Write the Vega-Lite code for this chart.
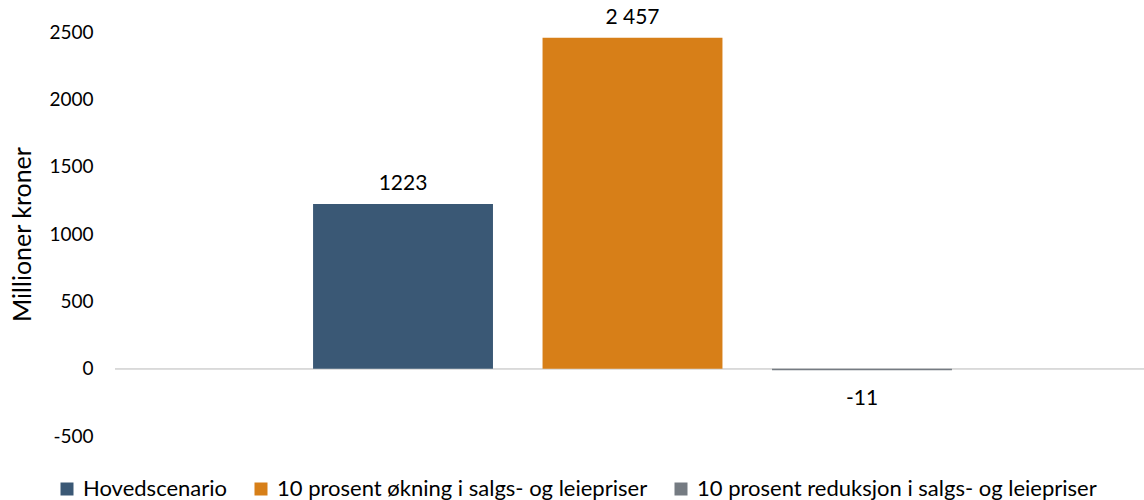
{
  "$schema": "https://vega.github.io/schema/vega-lite/v6.json",
  "autosize": {"type": "none"},
  "width": 1029,
  "height": 404,
  "padding": {"left": 115, "top": 32, "right": 0, "bottom": 64},
  "background": "white",
  "config": {
    "font": "Lato",
    "view": {"stroke": null},
    "text": {"font": "Lato"}
  },
  "data": {
    "values": [
      {"serie": "Hovedscenario", "verdi": 1223, "etikett": "1223"},
      {"serie": "10 prosent økning i salgs- og leiepriser", "verdi": 2457, "etikett": "2 457"},
      {"serie": "10 prosent reduksjon i salgs- og leiepriser", "verdi": -11, "etikett": "-11"}
    ]
  },
  "encoding": {
    "x": {
      "field": "serie",
      "type": "nominal",
      "sort": null,
      "axis": null,
      "scale": {"paddingInner": 0.216, "paddingOuter": 0.85, "range": [3, 1032]}
    }
  },
  "layer": [
    {
      "mark": {"type": "rule", "color": "#d9d9d9", "strokeWidth": 1.5},
      "encoding": {"y": {"datum": 0, "type": "quantitative"}, "x": null}
    },
    {
      "mark": {"type": "bar"},
      "encoding": {
        "y": {
          "field": "verdi",
          "type": "quantitative",
          "scale": {"domain": [-500, 2500], "nice": false, "zero": false},
          "axis": {
            "title": "Millioner kroner",
            "titleFont": "Lato",
            "titleFontSize": 25,
            "titleFontWeight": "normal",
            "titleColor": "#000000",
            "titlePadding": 13,
            "values": [-500, 0, 500, 1000, 1500, 2000, 2500],
            "format": "d",
            "labelExpr": "replace(datum.label, '−', '-')",
            "labelFont": "Lato",
            "labelFontSize": 19,
            "labelColor": "#000000",
            "labelPadding": 22,
            "domain": false,
            "ticks": false,
            "grid": false
          }
        },
        "color": {
          "field": "serie",
          "type": "nominal",
          "sort": null,
          "scale": {
            "domain": ["Hovedscenario", "10 prosent økning i salgs- og leiepriser", "10 prosent reduksjon i salgs- og leiepriser"],
            "range": ["#3a5875", "#d77f18", "#757b82"]
          },
          "legend": {
            "title": null,
            "orient": "none",
            "direction": "horizontal",
            "legendX": -59,
            "legendY": 446,
            "symbolType": "square",
            "symbolSize": 169,
            "symbolStrokeWidth": 0,
            "labelFont": "Lato",
            "labelFontSize": 22,
            "labelColor": "#000000",
            "labelOffset": 5,
            "columnPadding": 22,
            "labelLimit": 600
          }
        }
      }
    },
    {
      "transform": [{"filter": "datum.verdi >= 0"}],
      "mark": {"type": "text", "baseline": "bottom", "dy": -10, "fontSize": 21, "color": "#000000"},
      "encoding": {
        "y": {"field": "verdi", "type": "quantitative"},
        "text": {"field": "etikett"}
      }
    },
    {
      "transform": [{"filter": "datum.verdi < 0"}],
      "mark": {"type": "text", "baseline": "top", "dy": 18, "fontSize": 21, "color": "#000000"},
      "encoding": {
        "y": {"field": "verdi", "type": "quantitative"},
        "text": {"field": "etikett"}
      }
    }
  ]
}
